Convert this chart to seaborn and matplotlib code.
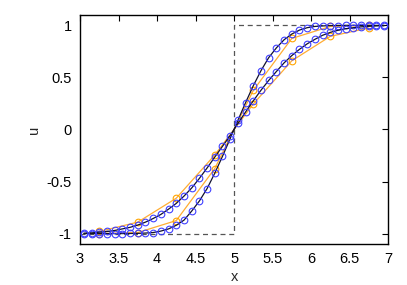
import matplotlib
matplotlib.use("Agg")
import matplotlib.pyplot as plt
import seaborn as sns
import pandas as pd

# fine grid solutions (blue circles, black line)
x_fine = [3.05, 3.15, 3.25, 3.35, 3.45, 3.55, 3.65, 3.75, 3.85, 3.95,
          4.05, 4.15, 4.25, 4.35, 4.45, 4.55, 4.65, 4.75, 4.85, 4.95,
          5.05, 5.15, 5.25, 5.35, 5.45, 5.55, 5.65, 5.75, 5.85, 5.95,
          6.05, 6.15, 6.25, 6.35, 6.45, 6.55, 6.65, 6.75, 6.85, 6.95]
u_steep = [-1.0, -1.0, -1.0, -1.0, -1.0, -1.0, -0.999, -0.998, -0.995, -0.99,
           -0.976, -0.955, -0.92, -0.871, -0.784, -0.687, -0.568, -0.42, -0.258, -0.087,
           0.087, 0.258, 0.42, 0.565, 0.69, 0.784, 0.862, 0.917, 0.955, 0.978,
           0.99, 0.995, 0.998, 0.999, 1.0, 1.0, 1.0, 1.0, 1.0, 1.0]
u_shallow = [-0.996, -0.993, -0.987, -0.98, -0.97, -0.955, -0.94, -0.918, -0.89, -0.855,
             -0.816, -0.765, -0.71, -0.64, -0.562, -0.47, -0.37, -0.265, -0.162, -0.058,
             0.058, 0.168, 0.275, 0.377, 0.471, 0.557, 0.64, 0.71, 0.77, 0.823,
             0.866, 0.905, 0.933, 0.953, 0.968, 0.978, 0.986, 0.991, 0.995, 0.997]

# coarse grid solutions (orange)
x_coarse = [3.25, 3.75, 4.25, 4.75, 5.25, 5.75, 6.25, 6.75]
u_coarse_steep = [-1.0, -0.99, -0.875, -0.375, 0.375, 0.875, 0.99, 1.0]
u_coarse_shallow = [-0.98, -0.89, -0.66, -0.245, 0.245, 0.66, 0.895, 0.975]

# initial step
x_step = [3, 5, 5, 7]
u_step = [-1, -1, 1, 1]

sns.set_style("white")
plt.rcParams['font.family'] = ['Liberation Sans', 'DejaVu Sans']

fig = plt.figure(figsize=(4.07, 2.85), dpi=100)
ax = fig.add_axes([0.1966, 0.1439, 0.7568, 0.8035])

ax.plot(x_step, u_step, color="#555555", linestyle=(0, (4, 3)), linewidth=0.9, zorder=1)

for u in [u_coarse_steep, u_coarse_shallow]:
    df = pd.DataFrame({"x": x_coarse, "u": u})
    sns.lineplot(data=df, x="x", y="u", ax=ax, color="#ffad33", linewidth=0.9,
                 marker="o", markersize=4.8, markerfacecolor="none",
                 markeredgecolor="#ffa500", markeredgewidth=0.8, sort=False, zorder=2)

for u in [u_steep, u_shallow]:
    df = pd.DataFrame({"x": x_fine, "u": u})
    sns.lineplot(data=df, x="x", y="u", ax=ax, color="#101030", linewidth=0.9,
                 marker="o", markersize=4.8, markerfacecolor="none",
                 markeredgecolor="#4040ff", markeredgewidth=0.8, sort=False, zorder=3)

ax.set_xlim(3, 7)
ax.set_ylim(-1.1, 1.1)
ax.set_xticks([3, 3.5, 4, 4.5, 5, 5.5, 6, 6.5, 7])
ax.set_xticklabels(["3", "3.5", "4", "4.5", "5", "5.5", "6", "6.5", "7"])
ax.set_yticks([-1, -0.5, 0, 0.5, 1])
ax.set_yticklabels(["-1", "-0.5", "0", "0.5", "1"])
ax.tick_params(direction="in", length=4, width=0.8, top=True, right=True,
               labelsize=10.5, pad=6, colors="black")
for s in ax.spines.values():
    s.set_color("black")
    s.set_linewidth(1.0)

ax.set_xlabel("x", fontsize=10.5, labelpad=3)
ax.set_ylabel("u", fontsize=10.5, labelpad=4)

fig.savefig("out.png", dpi=100)
